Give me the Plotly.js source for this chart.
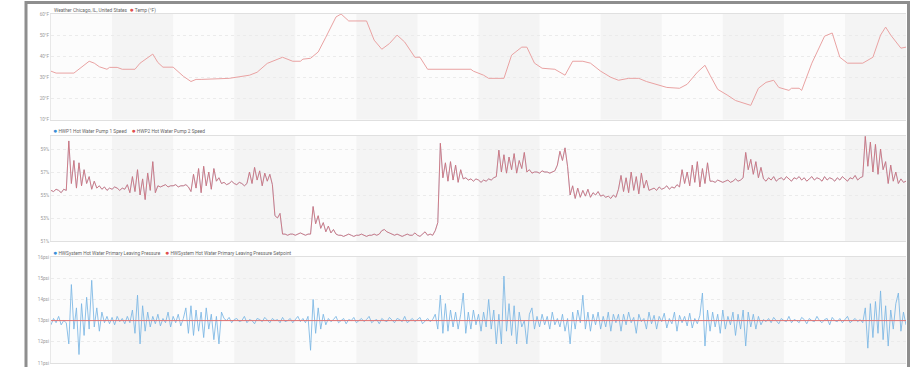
<!DOCTYPE html>
<html>
<head>
<meta charset="utf-8">
<script src="https://cdn.plot.ly/plotly-3.0.1.min.js"></script>
<style>html,body{margin:0;padding:0;background:#fff;}#chart{width:922px;height:367px;}</style>
</head>
<body>
<div id="chart"></div>
<script>
// ---- Data ----
// Panel 1: outdoor temperature, hours since start of the 14-day window
const tempHours = [0,2,9,15,17,19,22,23,26,28,33,35,40,42,44,48,52,55,57,59,70,78,81,85,91,95,98,99,102,105,108,112,114,117,124,127,130,133,136,139,143,145,148,165,166,170,172,178,181,185,187,190,193,198,200,202,205,209,212,216,220,223,227,231,234,240,242,247,250,254,257,259,262,266,269,275,278,281,284,286,290,291,294,295,299,304,307,310,313,319,323,326,328,330,334,336];
const tempF = [32.9,32,32,37.6,36.7,35,33.8,34.7,34.7,33.8,33.8,36.7,41,37,34.8,34.8,30.5,28,29,29,29.5,31,32.4,36.6,39.5,37.6,37.6,38.6,39,42,49,58.6,60,56.7,56.7,47.6,43.3,46,50,46.7,39.5,39.5,33.8,33.8,32.9,31,29.5,29.5,40.5,44.3,44.3,36.7,34.3,33.8,32.4,31,37.6,37.6,36.7,32.9,30,28.6,29.5,29.5,28,25.7,25.2,24.8,26.7,32.4,35.7,31,24.3,21.4,19,16.7,24.8,27.6,28.6,25.2,23.8,24.8,24.8,23.8,36.7,49.5,51,39.5,36.7,36.7,39.5,50,53.8,50,43.8,44.3];

// Panel 2: pump speed (%), one reading per hour
const hwp2Speed = [
55.4,55.3,55.5,55.4,55.2,55.5,55.4,
59.7,56.0,58.0,55.6,57.8,55.8,57.2,56.0,56.6,55.5,56.2,55.6,55.8,
55.5,55.7,55.4,55.6,55.5,55.7,55.6,55.4,55.6,55.5,
55.9,55.2,56.6,55.3,57.2,55.0,56.4,54.6,56.9,55.4,57.9,55.2,55.8,
55.7,55.8,55.9,55.7,55.8,55.8,55.9,55.7,55.8,55.8,55.9,55.7,
55.3,56.8,55.6,57.3,55.2,57.5,55.8,57.0,55.5,57.3,56.2,56.5,
56.0,56.1,55.9,56.0,56.2,56.0,55.9,56.1,56.0,55.8,56.0,
57.0,56.0,57.4,56.3,57.1,55.8,56.9,56.2,56.8,55.9,
53.2,53.0,53.4,
51.6,51.6,51.5,51.6,51.6,51.5,51.6,51.7,51.6,51.5,51.6,
51.6,54.0,52.5,53.2,52.1,52.6,51.8,52.3,51.7,52.0,
51.6,51.5,51.5,51.4,51.5,51.6,51.5,51.4,51.5,51.5,51.6,51.5,51.4,51.5,51.5,51.6,51.5,51.6,
51.9,52.0,51.8,51.7,51.6,
51.5,51.6,51.5,51.4,51.5,51.6,51.5,51.5,51.7,51.5,51.4,51.6,51.8,51.5,51.6,51.5,51.9,
52.6,59.5,56.5,57.8,56.2,57.9,56.3,57.6,56.1,57.2,56.4,
56.5,56.3,56.4,56.2,56.4,56.3,56.1,56.3,56.2,56.4,56.3,56.5,56.6,
58.9,57.0,58.5,56.9,58.3,57.2,58.6,56.9,58.0,57.3,58.7,57.0,57.2,
56.9,57.0,57.0,56.9,57.1,57.0,57.0,56.9,57.0,57.1,
57.6,58.8,58.0,59.1,57.5,
55.0,55.8,54.7,55.6,54.8,55.4,54.9,55.5,54.8,55.2,55.0,55.3,
54.9,55.0,54.8,54.9,54.7,55.0,54.8,
55.5,56.7,55.3,56.5,55.2,57.0,55.4,56.6,55.1,56.9,55.6,56.3,55.4,
55.5,55.6,55.4,55.7,55.5,55.6,55.8,55.5,55.7,55.6,55.9,55.7,
57.2,56.0,57.0,55.8,57.6,56.1,57.9,55.7,57.3,56.0,57.8,56.2,
56.2,56.1,56.3,56.2,56.1,56.2,56.3,56.1,56.2,56.4,56.2,56.3,56.5,
58.7,57.2,58.1,56.8,57.9,56.5,57.4,
56.4,56.2,56.5,56.3,56.6,56.2,56.4,56.5,56.3,56.6,
56.4,56.2,56.5,56.4,56.6,56.3,56.5,56.2,56.4,56.6,
56.3,56.5,56.4,56.2,56.6,56.3,56.5,56.4,56.2,56.5,
56.3,56.6,56.4,56.2,56.5,56.4,56.7,56.3,56.5,56.6,
60.1,57.5,59.6,57.0,59.4,56.8,59.0,57.2,57.9,56.0,57.6,56.2,57.0,56.0,56.4,56.1,56.2
];
const hwp1Speed = hwp2Speed.slice(); // pump 1 tracks pump 2 (drawn underneath)

// Panel 3: primary leaving pressure (psi), one reading per hour
const pressurePsi = [
12.8,13.1,12.9,13.2,12.8,13.0,12.9,
11.9,14.7,12.6,13.6,11.4,13.8,12.3,14.1,12.6,14.9,12.7,13.6,12.5,13.4,
12.9,13.2,12.85,13.15,12.8,13.2,12.95,13.1,12.85,13.2,12.9,
13.5,12.4,14.2,11.9,13.7,12.5,13.4,12.7,
13.2,12.85,13.3,12.75,13.1,12.9,13.4,12.7,13.2,12.9,13.3,12.75,13.1,
13.6,12.4,13.7,12.3,13.5,12.5,13.4,12.2,13.6,12.6,13.3,12.1,13.2,11.9,13.4,
13.1,13.0,13.15,12.9,13.05,13.1,12.95,13.0,13.2,12.9,13.05,13.0,12.85,13.1,13.05,12.95,13.15,13.0,12.9,13.1,13.0,13.05,12.9,13.15,12.95,13.0,13.1,12.9,13.05,13.2,12.95,
13.1,12.9,13.2,11.6,14.0,12.4,13.6,12.6,13.3,12.8,
13.1,12.95,13.05,13.2,12.9,13.0,13.1,12.85,13.05,13.0,13.15,12.9,13.0,13.1,12.95,13.05,13.2,12.9,13.0,13.05,12.85,
13.1,13.0,12.95,13.15,13.0,12.9,13.1,13.05,12.95,13.2,12.9,13.0,13.1,12.95,13.05,13.15,12.85,13.0,13.1,12.95,13.05,
13.3,12.6,14.2,12.4,13.8,12.5,13.5,12.7,13.4,12.6,13.3,14.3,12.4,13.4,12.6,13.5,12.8,13.3,12.5,13.4,12.7,14.0,12.6,13.5,11.9,
13.3,11.9,15.1,12.5,13.8,12.3,13.7,11.9,13.4,12.7,13.0,11.9,13.3,13.6,12.6,13.2,12.7,13.3,12.8,13.2,12.6,13.4,12.8,13.1,12.7,13.3,12.5,13.1,11.9,13.4,12.6,13.5,12.9,14.2,12.6,13.4,12.5,13.3,12.8,13.4,12.6,13.2,12.7,13.4,12.5,13.3,12.9,
13.3,
12.5,13.3,12.8,13.4,12.9,13.15,12.4,13.3,12.95,13.1,12.6,13.4,12.85,13.25,12.6,13.2,12.95,13.35,12.65,13.1,12.85,13.4,12.5,13.25,12.9,13.2,12.75,13.35,12.65,13.1,12.85,13.25,
14.3,11.8,13.5,12.5,13.4,12.7,13.3,12.4,13.5,12.6,13.2,12.8,13.4,12.3,13.3,12.6,13.5,11.8,13.4,12.7,13.3,12.6,13.2,12.8,
13.05,12.95,13.1,12.9,13.15,13.0,12.85,13.1,13.0,12.95,13.2,12.9,13.05,13.0,12.9,13.15,13.05,12.85,13.1,13.0,
12.95,13.2,13.0,12.9,13.05,13.1,12.8,13.15,13.0,12.95,13.1,12.9,13.05,13.2,12.9,13.0,13.1,12.95,13.05,12.9,
13.6,11.7,13.8,12.2,13.9,12.4,14.4,12.1,13.7,11.8,13.5,12.6,13.8,14.3,12.5,13.4,12.8
];
const setpointHours = [0, 336];
const setpointPsi = [13, 13];

const tempTicks = [10, 20, 30, 40, 50, 60];
const speedTicks = [51, 53, 55, 57, 59];
const pressureTicks = [11, 12, 13, 14, 15, 16];
const dayCount = 14;

// ---- Layout helpers ----
const W = 922, H = 367;
const px = v => v / W, py = v => 1 - v / H;
const hoursOf = arr => arr.map((_, i) => i);

const tickFont = {family: 'Roboto, "Liberation Sans", sans-serif', size: 4.6, color: '#9a9a9a'};
function yAxis(domain, range, ticks, suffix) {
  return {
    domain: domain, range: range, tickvals: ticks, ticktext: ticks.map(t => t + suffix),
    showgrid: true, gridcolor: '#ebebeb', griddash: 'dot', gridwidth: 1,
    zeroline: false, showline: true, linecolor: '#e8e8e8', linewidth: 1,
    ticks: '', tickfont: tickFont, automargin: false, fixedrange: true
  };
}
function xAxis(anchor) {
  return {
    domain: [px(51), px(906)], range: [0, 336], anchor: anchor,
    showgrid: false, zeroline: false, showticklabels: false, ticks: '',
    showline: true, mirror: true, linecolor: '#e0e0e0', linewidth: 1, automargin: false
  };
}

const shapes = [];
['y', 'y2', 'y3'].forEach((ya, k) => {
  const xa = ['x', 'x2', 'x3'][k];
  for (let d = 1; d < dayCount; d += 2) {
    shapes.push({type: 'rect', xref: xa, yref: ya + ' domain', x0: d * 24, x1: (d + 1) * 24, y0: 0, y1: 1,
      fillcolor: '#f4f4f4', line: {width: 0}, layer: 'below'});
  }
});
// outer dashboard frame
shapes.push({type: 'rect', xref: 'paper', yref: 'paper', x0: px(26), x1: px(908.5), y0: -0.2, y1: py(2.5),
  line: {color: '#8e8e8e', width: 3}, fillcolor: 'rgba(0,0,0,0)'});

const legFont = {family: 'Roboto, "Liberation Sans", sans-serif', size: 4.8, color: '#666'};
const dot = c => '<span style="color:' + c + ';font-size:7px">●</span>';
const annotations = [
  {text: 'Weather Chicago, IL, United States  ' + dot('#e04f4f') + ' Temp (°F)', x: px(52), y: py(10)},
  {text: dot('#3a8fd8') + ' HWP1 Hot Water Pump 1 Speed    ' + dot('#e04f4f') + ' HWP2 Hot Water Pump 2 Speed', x: px(51), y: py(131)},
  {text: dot('#3a8fd8') + ' HWSystem Hot Water Primary Leaving Pressure    ' + dot('#e04f4f') + ' HWSystem Hot Water Primary Leaving Pressure Setpoint', x: px(51), y: py(253)}
].map(a => Object.assign({xref: 'paper', yref: 'paper', xanchor: 'left', yanchor: 'middle', showarrow: false, font: legFont, align: 'left'}, a));

const traces = [
  {x: tempHours, y: tempF, xaxis: 'x', yaxis: 'y', mode: 'lines', line: {color: '#e9a2a2', width: 1}, name: 'Temp (°F)'},
  {x: hoursOf(hwp1Speed), y: hwp1Speed, xaxis: 'x2', yaxis: 'y2', mode: 'lines', line: {color: '#9cc6ec', width: 0.6}, name: 'HWP1 Hot Water Pump 1 Speed'},
  {x: hoursOf(hwp2Speed), y: hwp2Speed, xaxis: 'x2', yaxis: 'y2', mode: 'lines', line: {color: '#cf727b', width: 0.9}, name: 'HWP2 Hot Water Pump 2 Speed'},
  {x: hoursOf(pressurePsi), y: pressurePsi, xaxis: 'x3', yaxis: 'y3', mode: 'lines', line: {color: '#7ab6e4', width: 0.85}, name: 'HWSystem Hot Water Primary Leaving Pressure'},
  {x: setpointHours, y: setpointPsi, xaxis: 'x3', yaxis: 'y3', mode: 'lines', line: {color: '#e07070', width: 1}, name: 'HWSystem Hot Water Primary Leaving Pressure Setpoint'}
];

const layout = {
  width: W, height: H, margin: {l: 0, r: 0, t: 0, b: 0, pad: 0},
  paper_bgcolor: '#ffffff', plot_bgcolor: '#fcfcfc', showlegend: false,
  xaxis: xAxis('y'), xaxis2: xAxis('y2'), xaxis3: xAxis('y3'),
  yaxis: yAxis([py(119.5), py(14)], [10, 60], tempTicks, '°F'),
  yaxis2: yAxis([py(241), py(136)], [51, 60.13], speedTicks, '%'),
  yaxis3: yAxis([py(363), py(257)], [11, 16], pressureTicks, 'psi'),
  shapes: shapes, annotations: annotations
};

Plotly.newPlot('chart', traces, layout, {staticPlot: true, displayModeBar: false});
</script>
</body>
</html>
